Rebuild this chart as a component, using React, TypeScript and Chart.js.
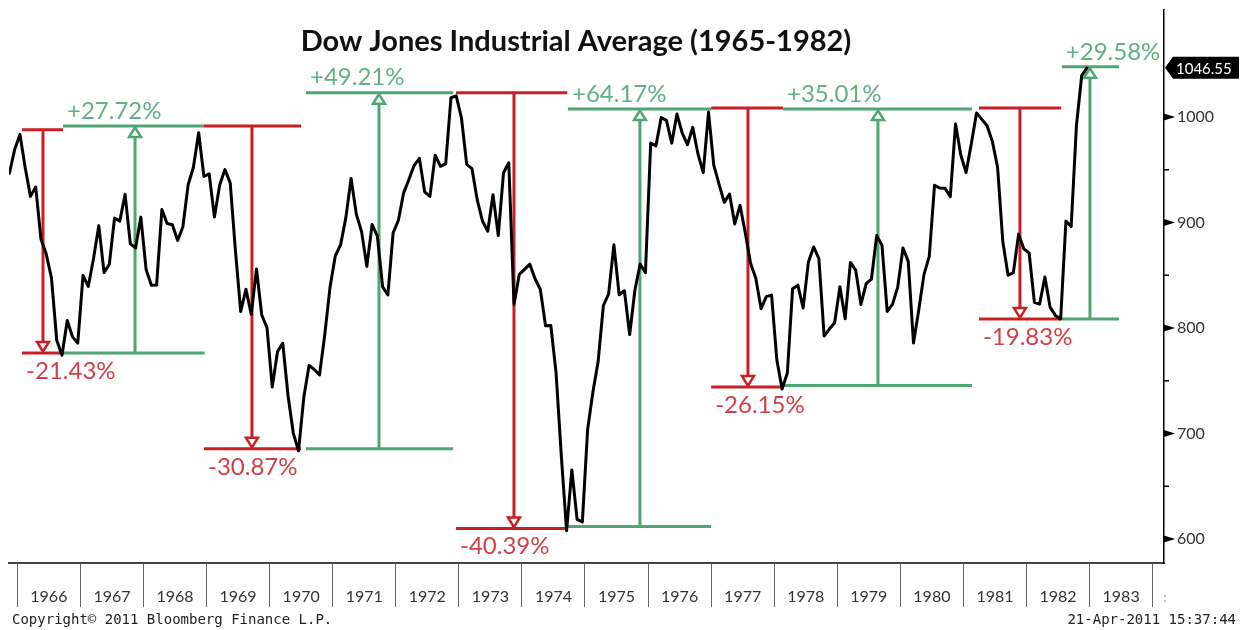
import React, { useEffect, useRef } from "react";
import { Chart, registerables } from "chart.js";

Chart.register(...registerables);

// ---------- data ----------
const chartTitle = "Dow Jones Industrial Average (1965-1982)";
const copyrightText = "Copyright\u00A9 2011 Bloomberg Finance L.P.";
const stampText = "21-Apr-2011 15:37:44";

// monthly closes, series starts Nov 1965
const firstYear = 1965;
const firstMonth = 11;
const dow1965 = [946.71, 969.26];
const dow1966 = [983.51, 951.89, 924.77, 933.68, 884.07, 870.1, 847.38, 788.41, 774.22, 807.07, 791.59, 785.69];
const dow1967 = [849.89, 839.37, 865.98, 897.05, 852.56, 860.26, 904.24, 901.29, 926.66, 879.74, 875.81, 905.11];
const dow1968 = [855.47, 840.5, 840.67, 912.22, 899.0, 897.8, 883.0, 896.01, 935.79, 952.39, 985.08, 943.75];
const dow1969 = [946.05, 905.21, 935.48, 950.18, 937.56, 873.19, 815.47, 836.72, 813.09, 855.99, 812.3, 800.36];
const dow1970 = [744.06, 777.59, 785.57, 736.07, 700.44, 683.53, 734.12, 764.58, 760.68, 755.61, 794.09, 838.92];
const dow1971 = [868.5, 878.83, 904.37, 941.75, 907.81, 891.14, 858.43, 898.07, 887.19, 839.0, 831.34, 890.2];
const dow1972 = [902.17, 928.13, 940.7, 954.17, 960.72, 929.03, 924.74, 963.73, 953.27, 955.52, 1018.21, 1020.02];
const dow1973 = [999.02, 955.07, 951.01, 921.43, 901.41, 891.71, 926.4, 887.57, 947.1, 956.58, 822.25, 850.86];
const dow1974 = [855.55, 860.53, 846.68, 836.75, 802.17, 802.41, 757.43, 678.58, 607.87, 665.52, 618.66, 616.24];
const dow1975 = [703.69, 739.05, 768.15, 821.34, 832.29, 878.99, 831.51, 835.34, 793.88, 836.04, 860.67, 852.41];
const dow1976 = [975.28, 972.61, 999.45, 996.85, 975.23, 1002.78, 984.64, 973.74, 990.19, 964.93, 947.22, 1004.65];
const dow1977 = [954.37, 936.42, 919.13, 926.9, 898.66, 916.3, 890.07, 861.49, 847.11, 818.35, 829.7, 831.17];
const dow1978 = [769.92, 742.12, 757.36, 837.32, 840.61, 818.95, 862.27, 876.82, 865.82, 792.45, 799.03, 805.01];
const dow1979 = [839.22, 808.82, 862.18, 854.9, 822.33, 841.98, 846.42, 887.63, 878.58, 815.7, 822.35, 838.74];
const dow1980 = [875.85, 863.14, 785.75, 817.06, 850.85, 867.92, 935.32, 932.59, 932.42, 924.49, 993.34, 963.99];
const dow1981 = [947.27, 974.58, 1003.87, 997.75, 991.75, 976.88, 952.34, 881.47, 849.98, 852.55, 888.98, 875.0];
const dow1982 = [871.1, 824.39, 822.77, 848.36, 819.54, 811.93, 808.6, 901.31, 896.25, 991.72, 1039.28, 1046.54];

const lastValue = 1046.55;
const lastValueLabel = "1046.55";

const yearTicks = [1966, 1967, 1968, 1969, 1970, 1971, 1972, 1973, 1974, 1975, 1976, 1977, 1978, 1979, 1980, 1981, 1982, 1983];
const priceTicks = [600, 650, 700, 750, 800, 850, 900, 950, 1000];
const labeledPriceTicks = [600, 700, 800, 900, 1000];
const xMin = 1965.868;
const xMax = 1984.18;
const yMin = 577.3;
const yMax = 1101.4;

// drawdown / rally markers (dates as decimal years, levels in index points)
const moveLabels = ["-21.43%", "+27.72%", "-30.87%", "+49.21%", "-40.39%", "+64.17%", "-26.15%", "+35.01%", "-19.83%", "+29.58%"];
const moveStart = [1966.075, 1966.724, 1968.96, 1970.577, 1972.955, 1974.73, 1977.0, 1978.139, 1981.246, 1982.56];
const moveEnd = [1966.724, 1968.97, 1970.5, 1972.91, 1974.72, 1977.0, 1978.139, 1981.135, 1982.55, 1983.466];
const moveArrow = [1966.407, 1967.866, 1969.72, 1971.734, 1973.874, 1975.871, 1977.584, 1979.645, 1981.896, 1983.006];
const moveFrom = [988, 776.3, 991.5, 685.5, 1023, 612, 1008.5, 745.5, 1008.5, 808.5];
const moveTo = [776.3, 991.5, 685.5, 1023, 610, 1007.5, 744, 1007.5, 808.5, 1047.5];

// ---------- styles ----------
const RED = "#c81e24";
const GREEN = "#4fa673";
const RED_TEXT = "#d0404a";
const GREEN_TEXT = "#62b086";

const series = [dow1965, dow1966, dow1967, dow1968, dow1969, dow1970, dow1971, dow1972, dow1973, dow1974, dow1975, dow1976, dow1977, dow1978, dow1979, dow1980, dow1981, dow1982].flat();
const points = series.map((v, i) => {
  const mi = firstMonth - 1 + i;
  const yr = firstYear + Math.floor(mi / 12);
  const mo = mi % 12;
  return { x: yr + (mo + 0.5) / 12, y: v };
});

const overlayPlugin = {
  id: "overlay",
  beforeDatasetsDraw(chart: any) {
    const { ctx, scales } = chart;
    const xs = scales.x;
    const ys = scales.y;
    ctx.save();
    for (let i = 0; i < moveLabels.length; i++) {
      const down = moveTo[i] < moveFrom[i];
      const color = down ? RED : GREEN;
      const x1 = xs.getPixelForValue(moveStart[i]);
      const x2 = xs.getPixelForValue(moveEnd[i]);
      const xa = xs.getPixelForValue(moveArrow[i]);
      const yf = ys.getPixelForValue(moveFrom[i]);
      const yt = ys.getPixelForValue(moveTo[i]);
      ctx.strokeStyle = color;
      ctx.lineWidth = 3;
      ctx.lineCap = "butt";
      ctx.beginPath();
      ctx.moveTo(x1, yf);
      ctx.lineTo(x2, yf);
      ctx.moveTo(x1, yt);
      ctx.lineTo(x2, yt);
      ctx.stroke();
      const dir = down ? 1 : -1;
      const headLen = 11;
      const half = 6;
      ctx.beginPath();
      ctx.moveTo(xa, yf);
      ctx.lineTo(xa, yt - dir * headLen);
      ctx.stroke();
      // hollow arrow head
      ctx.beginPath();
      ctx.moveTo(xa, yt - dir * 1.5);
      ctx.lineTo(xa - half, yt - dir * headLen);
      ctx.lineTo(xa + half, yt - dir * headLen);
      ctx.closePath();
      ctx.fillStyle = "#ffffff";
      ctx.fill();
      ctx.lineWidth = 2.5;
      ctx.lineJoin = "miter";
      ctx.stroke();
      // label
      ctx.font = "24px Lato";
      ctx.fillStyle = down ? RED_TEXT : GREEN_TEXT;
      ctx.textAlign = "left";
      ctx.textBaseline = "middle";
      ctx.fillText(moveLabels[i], x1 + 4, down ? yt + 18 : yt - 15);
    }
    ctx.restore();
  },
  afterDraw(chart: any) {
    const { ctx, scales } = chart;
    const ys = scales.y;
    const xs = scales.x;
    ctx.save();
    // title
    ctx.font = "bold 29px Lato";
    ctx.fillStyle = "#111111";
    ctx.textAlign = "center";
    ctx.textBaseline = "middle";
    ctx.fillText(chartTitle, 576, 42);
    // y tick markers
    for (const t of ys.ticks) {
      const py = ys.getPixelForValue(t.value);
      const ax = ys.left;
      if (labeledPriceTicks.includes(t.value)) {
        ctx.beginPath();
        ctx.moveTo(ax, py - 3.5);
        ctx.lineTo(ax + 11, py);
        ctx.lineTo(ax, py + 3.5);
        ctx.closePath();
        ctx.fillStyle = "#000";
        ctx.fill();
      } else {
        ctx.beginPath();
        ctx.moveTo(ax, py);
        ctx.lineTo(ax + 5, py);
        ctx.strokeStyle = "#000";
        ctx.lineWidth = 1.5;
        ctx.stroke();
      }
    }
    // last value box
    const pv = ys.getPixelForValue(lastValue);
    const bx = ys.left + 1;
    ctx.beginPath();
    ctx.moveTo(bx, pv);
    ctx.lineTo(bx + 8, pv - 11);
    ctx.lineTo(bx + 74, pv - 11);
    ctx.lineTo(bx + 74, pv + 11);
    ctx.lineTo(bx + 8, pv + 11);
    ctx.closePath();
    ctx.fillStyle = "#000";
    ctx.fill();
    ctx.font = "15px Lato";
    ctx.fillStyle = "#fff";
    ctx.textAlign = "left";
    ctx.textBaseline = "middle";
    ctx.fillText(lastValueLabel, bx + 11, pv + 1);
    // partial label beyond last year
    ctx.font = "14px Lato";
    ctx.fillStyle = "#999";
    ctx.textAlign = "center";
    ctx.fillText(":", xs.getPixelForValue(xMax) + 1, 597);
    // footer
    ctx.font = '14px "DejaVu Sans Mono"';
    ctx.fillStyle = "#222";
    ctx.textBaseline = "alphabetic";
    ctx.textAlign = "left";
    ctx.fillText(copyrightText, 12, 624);
    ctx.textAlign = "right";
    ctx.fillText(stampText, 1236, 624);
    ctx.restore();
  },
};

export default function App() {
  const canvasRef = useRef<HTMLCanvasElement | null>(null);

  useEffect(() => {
    if (!canvasRef.current) return;
    const chart = new Chart(canvasRef.current, {
      type: "line",
      data: {
        datasets: [
          {
            data: points,
            borderColor: "#000000",
            borderWidth: 3,
            pointRadius: 0,
            tension: 0,
            borderJoinStyle: "round",
            borderCapStyle: "round",
            fill: false,
          },
        ],
      },
      options: {
        responsive: false,
        animation: false,
        devicePixelRatio: 1,
        layout: { padding: { left: 9, top: 10, right: 0, bottom: 0 } },
        plugins: {
          legend: { display: false },
          tooltip: { enabled: false },
          title: { display: false },
        },
        scales: {
          x: {
            type: "linear",
            min: xMin,
            max: xMax,
            afterFit: (scale: any) => {
              scale.height = 67;
              scale.paddingLeft = 0;
              scale.paddingRight = 0;
            },
            afterBuildTicks: (scale: any) => {
              scale.ticks = yearTicks.map((yr) => ({ value: yr + 0.5 }));
            },
            ticks: {
              autoSkip: false,
              maxRotation: 0,
              minRotation: 0,
              padding: -20,
              color: "#333333",
              font: { family: "Lato", size: 16 },
              callback: (value: any) => String(Math.floor(Number(value))),
            },
            grid: {
              display: true,
              drawOnChartArea: false,
              drawTicks: true,
              tickLength: 44,
              offset: true,
              color: "#666666",
              lineWidth: 1,
            },
            border: { display: true, color: "#444444", width: 2 },
          },
          y: {
            type: "linear",
            position: "right",
            min: yMin,
            max: yMax,
            afterFit: (scale: any) => {
              scale.width = 85;
              scale.paddingTop = 0;
              scale.paddingBottom = 0;
            },
            afterBuildTicks: (scale: any) => {
              scale.ticks = priceTicks.map((v) => ({ value: v }));
            },
            ticks: {
              padding: 13,
              color: "#333333",
              font: { family: "Lato", size: 16 },
              callback: (value: any) => (labeledPriceTicks.includes(Number(value)) ? String(value) : ""),
            },
            grid: { display: true, drawOnChartArea: false, drawTicks: false },
            border: { display: true, color: "#000000", width: 1.5 },
          },
        },
      },
      plugins: [overlayPlugin],
    });
    return () => chart.destroy();
  }, []);

  return (
    <div style={{ position: "fixed", left: 0, top: 0, width: 1249, height: 630, background: "#ffffff" }}>
      <canvas ref={canvasRef} width={1249} height={630} style={{ display: "block" }} />
    </div>
  );
}
